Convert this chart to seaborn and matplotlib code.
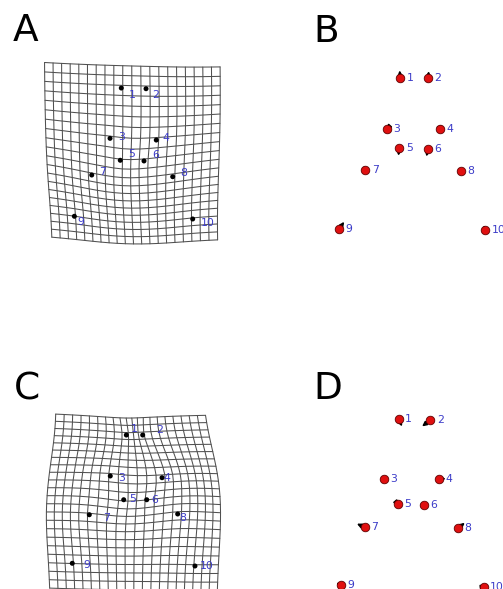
import numpy as np
import pandas as pd
import matplotlib
matplotlib.use("Agg")
import matplotlib.pyplot as plt
import seaborn as sns

sns.set_theme(style="white")
plt.rcParams['font.family'] = ['DejaVu Sans']

# ---------------- data (Procrustes coordinates, arbitrary units, y up) ----------------
landmarks = ["1", "2", "3", "4", "5", "6", "7", "8", "9", "10"]

# comparison 1 (panels A, B): consensus and target shape
ref1_x = [-13.0, 14.7, -26.0, 26.7, -14.0, 14.7, -48.0, 47.4, -74.0, 71.7]
ref1_y = [72.7, 72.7, 22.3, 22.0, 3.0, 2.0, -18.7, -19.7, -77.7, -79.0]
tar1_x = [-13.7, 15.5, -27.0, 27.6, -14.9, 13.1, -48.6, 47.0, -69.1, 70.6]
tar1_y = [80.6, 79.8, 21.2, 19.2, -4.7, -5.5, -22.1, -24.1, -70.8, -74.0]

# comparison 2 (panels C, D): consensus and target shape
ref2_x = [-13.5, 18.1, -27.9, 26.5, -14.5, 12.1, -47.5, 45.8, -70.9, 71.5]
ref2_y = [84.1, 83.4, 24.7, 24.1, -0.6, -1.9, -23.9, -24.9, -81.6, -83.3]
tar2_x = [-10.1, 9.9, -29.7, 33.5, -13.3, 14.8, -55.3, 52.6, -76.1, 73.7]
tar2_y = [77.0, 77.0, 27.0, 24.9, -2.0, -2.0, -20.3, -19.4, -79.6, -82.9]

panel_letters = ["A", "B", "C", "D"]

# ---------------- styling / layout ----------------
FW, FH = 503, 589
LABEL_BLUE = "#3c3cc8"
GRID_COL = "#505050"
N_COL = 21
LABEL_SIZE = 7.8

fig = plt.figure(figsize=(FW / 100, FH / 100), dpi=100)


def make_axes(rect, center, scale):
    L, T, W, H = rect
    ax = fig.add_axes([L / FW, 1 - (T + H) / FH, W / FW, H / FH])
    cx, cy = center
    ax.set_xlim((L - cx) / scale, (L + W - cx) / scale)
    ax.set_ylim((cy - T - H) / scale, (cy - T) / scale)
    ax.set_axis_off()
    return ax


def tps_warp(pts, src, dst):
    p = len(src)
    d2 = ((src[:, None, :] - src[None, :, :]) ** 2).sum(-1)
    with np.errstate(divide="ignore", invalid="ignore"):
        K = np.where(d2 > 0, d2 * np.log(d2), 0.0)
    Q = np.hstack([np.ones((p, 1)), src])
    L = np.zeros((p + 3, p + 3))
    L[:p, :p] = K
    L[:p, p:] = Q
    L[p:, :p] = Q.T
    rhs = np.vstack([dst, np.zeros((3, 2))])
    coef = np.linalg.solve(L, rhs)
    d2g = ((pts[:, None, :] - src[None, :, :]) ** 2).sum(-1)
    with np.errstate(divide="ignore", invalid="ignore"):
        Ug = np.where(d2g > 0, d2g * np.log(d2g), 0.0)
    return coef[p] + pts @ coef[p + 1:p + 3] + Ug @ coef[:p]


def grid_frame(src, dst, n=N_COL):
    base = src
    xm, xM = base[:, 0].min(), base[:, 0].max()
    ym, yM = base[:, 1].min(), base[:, 1].max()
    rX = xM - xm
    a = np.linspace(xm - rX / 5, xM + rX / 5, n)
    step = rX * 7 / (5 * (n - 1))
    nb = int(np.floor((yM + rX / 5 - (ym - rX / 5)) / step + 1e-10)) + 1
    b = ym - rX / 5 + step * np.arange(nb)
    m = int(round(0.5 + (n - 1) * (2 / 5 * rX + yM - ym) / (2 / 5 * rX + rX)))
    rows = min(m, nb)
    X, Y = np.meshgrid(a, b[:rows])
    pts = np.column_stack([X.ravel(), Y.ravel()])
    w = tps_warp(pts, src, dst).reshape(rows, n, 2)
    recs = []
    lid = 0
    for i in range(rows):
        for j in range(n):
            recs.append((lid, j, w[i, j, 0], w[i, j, 1]))
        lid += 1
    for j in range(n):
        for i in range(rows):
            recs.append((lid, i, w[i, j, 0], w[i, j, 1]))
        lid += 1
    return pd.DataFrame(recs, columns=["line", "order", "x", "y"])


def draw_grid_panel(ax, rx, ry, tx, ty):
    src = np.column_stack([rx, ry])
    dst = np.column_stack([tx, ty])
    gdf = grid_frame(src, dst)
    sns.lineplot(data=gdf, x="x", y="y", units="line", estimator=None, sort=False,
                 color=GRID_COL, lw=0.75, ax=ax, legend=False)
    tdf = pd.DataFrame({"x": tx, "y": ty, "lab": landmarks})
    sns.scatterplot(data=tdf, x="x", y="y", color="black", s=13, edgecolor="none",
                    ax=ax, zorder=5, legend=False)
    for lab, x, y in zip(landmarks, rx, ry):
        ax.annotate(lab, (x, y), xytext=(5, 0), textcoords="offset points",
                    ha="left", va="center", color=LABEL_BLUE, fontsize=LABEL_SIZE, zorder=6)
    ax.set_xlabel("")
    ax.set_ylabel("")
    ax.set_axis_off()


def draw_vector_panel(ax, rx, ry, tx, ty):
    for x0, y0, x1, y1 in zip(rx, ry, tx, ty):
        ax.annotate("", xy=(x1, y1), xytext=(x0, y0),
                    arrowprops=dict(arrowstyle="-|>", color="black", lw=1.2,
                                    mutation_scale=6.5, shrinkA=0, shrinkB=0),
                    zorder=3)
    rdf = pd.DataFrame({"x": rx, "y": ry, "lab": landmarks})
    sns.scatterplot(data=rdf, x="x", y="y", color="#e01010", s=38,
                    edgecolor="#600000", linewidth=0.6, ax=ax, zorder=5, legend=False)
    for lab, x, y in zip(landmarks, rx, ry):
        ax.annotate(lab, (x, y), xytext=(4.6, 0), textcoords="offset points",
                    ha="left", va="center", color=LABEL_BLUE, fontsize=LABEL_SIZE, zorder=6,
                    annotation_clip=False)
    ax.set_xlabel("")
    ax.set_ylabel("")
    ax.set_axis_off()


axA = make_axes((0, 0, 251.5, 294.5), (132.9, 156.3), 0.847)
axB = make_axes((251.5, 0, 251.5, 294.5), (413.3, 151.0), 1.0)
axC = make_axes((0, 294.5, 251.5, 294.5), (134.6, 498.1), 0.819)
axD = make_axes((251.5, 294.5, 251.5, 294.5), (412.2, 503.4), 1.0)

draw_grid_panel(axA, ref1_x, ref1_y, tar1_x, tar1_y)
draw_vector_panel(axB, ref1_x, ref1_y, tar1_x, tar1_y)
draw_grid_panel(axC, ref2_x, ref2_y, tar2_x, tar2_y)
draw_vector_panel(axD, ref2_x, ref2_y, tar2_x, tar2_y)

letter_pos = [(13, 41), (313, 41.5), (14, 399), (313, 399)]
for letter, (lx, ly) in zip(panel_letters, letter_pos):
    fig.text(lx / FW, 1 - ly / FH, letter, fontsize=27, color="black",
             ha="left", va="baseline")

fig.savefig("out.png", dpi=100)
